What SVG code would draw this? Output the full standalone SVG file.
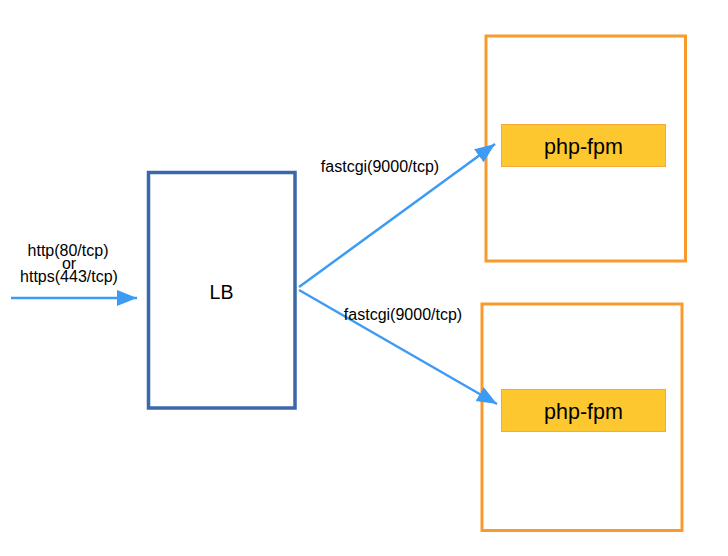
<svg xmlns="http://www.w3.org/2000/svg" width="728" height="556" viewBox="0 0 728 556">
<defs>
<style>
.lbl{font-family:"Liberation Sans",Arial,sans-serif;fill:#000;}
.conn{stroke:#3D9BF5;stroke-width:2.5;fill:none;}
.host{fill:#fff;stroke:#F89A2C;stroke-width:3;}
.svc{fill:#FDC82F;stroke:#F5A93A;stroke-width:1;}
</style>
<marker id="ah" markerUnits="userSpaceOnUse" markerWidth="24" markerHeight="18" refX="20" refY="8" orient="auto" viewBox="0 0 24 18">
<path d="M0,0 L20,8 L0,16 Z" fill="#3D9BF5"/>
</marker>
</defs>
<rect width="728" height="556" fill="#fff"/>
<g id="lb">
<rect x="148.5" y="172.5" width="146.5" height="235.5" fill="#fff" stroke="#3A68A8" stroke-width="3.5"/>
<text class="lbl" x="221.5" y="298.5" font-size="19.5" text-anchor="middle">LB</text>
</g>
<g id="host1">
<rect class="host" x="486" y="36" width="199.5" height="225"/>
</g>
<g id="fpm1">
<rect class="svc" x="501.5" y="124.5" width="164" height="42"/>
<text class="lbl" x="583.5" y="153.5" font-size="21.5" text-anchor="middle">php-fpm</text>
</g>
<g id="host2">
<rect class="host" x="482" y="304" width="200" height="226.5"/>
</g>
<g id="fpm2">
<rect class="svc" x="501.5" y="389.5" width="164" height="42"/>
<text class="lbl" x="583.5" y="418.5" font-size="21.5" text-anchor="middle">php-fpm</text>
</g>
<g id="connectors">
<line class="conn" x1="11" y1="298" x2="137" y2="298" marker-end="url(#ah)"/>
<line class="conn" x1="299" y1="287" x2="495" y2="144" marker-end="url(#ah)"/>
<line class="conn" x1="299" y1="290" x2="497" y2="404" marker-end="url(#ah)"/>
</g>
<g id="labels">
<text class="lbl" x="68" y="255.5" font-size="16" text-anchor="middle">http(80/tcp)</text>
<text class="lbl" x="69" y="268.5" font-size="16" text-anchor="middle">or</text>
<text class="lbl" x="69" y="281.5" font-size="16" text-anchor="middle">https(443/tcp)</text>
<text class="lbl" x="380" y="172" font-size="16" text-anchor="middle">fastcgi(9000/tcp)</text>
<text class="lbl" x="403" y="320" font-size="16" text-anchor="middle">fastcgi(9000/tcp)</text>
</g>
</svg>
